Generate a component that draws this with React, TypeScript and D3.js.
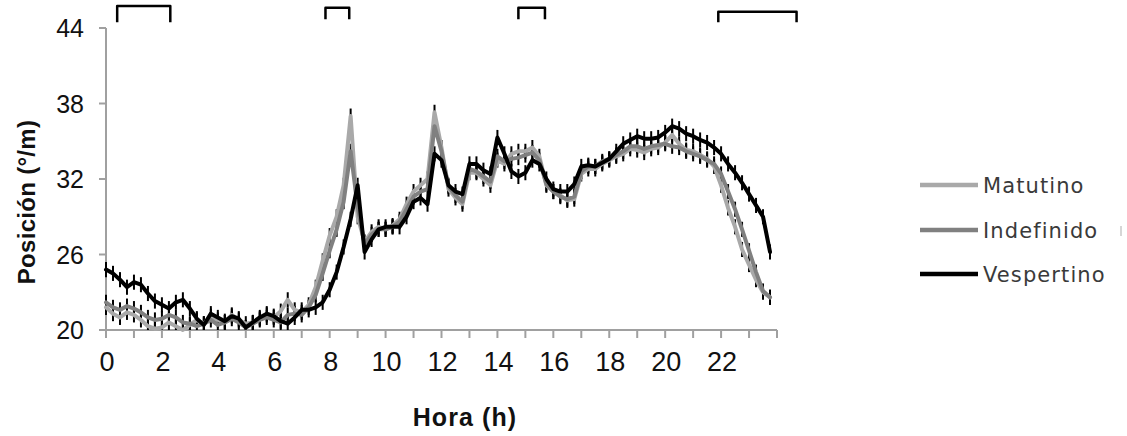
import React, { useEffect, useRef } from "react";
import * as d3 from "d3";

// hours sampled every 15 min (0 .. 23.75)
const hours: number[] = d3.range(0, 24, 0.25);

const matutino: number[] = [
  21.8, 21.3, 21.0, 21.4, 21.2, 20.8, 20.3, 20.1, 20.2, 20.6, 20.3, 20.0,
  20.4, 20.8, 20.5, 21.1, 20.8, 20.6, 21.2, 20.8, 20.5, 20.6, 20.9, 21.2,
  21.0, 21.5, 22.4, 21.6, 21.4, 22.0, 23.4, 25.5, 27.5, 29.0, 31.5, 37.0,
  29.0, 27.0, 27.8, 28.2, 28.0, 28.3, 28.8, 30.0, 31.0, 31.5, 32.0, 37.3,
  34.5, 31.2, 30.5, 30.0, 32.5, 32.5, 32.0, 31.5, 33.5, 33.2, 34.0, 34.2,
  34.2, 34.5, 33.8, 31.5, 31.0, 30.7, 30.3, 30.4, 32.4, 32.8, 32.8, 33.2,
  33.5, 33.8, 34.0, 34.4, 34.3, 34.1, 34.4, 34.5, 34.9, 35.5, 34.8, 34.3,
  34.2, 33.9, 33.6, 33.0, 31.5, 29.7, 28.2, 26.4, 25.2, 24.0, 23.0, 22.6,
];

const indefinido: number[] = [
  22.2, 21.8, 21.6, 21.9, 21.7, 21.4, 21.0, 20.8, 20.9, 21.2, 21.0, 20.6,
  20.5, 20.3, 20.5, 20.8, 20.4, 20.6, 20.9, 20.6, 20.2, 20.5, 20.8, 21.0,
  20.8, 20.6, 21.2, 21.3, 21.2, 21.8, 22.8, 24.5, 26.3, 28.0, 30.2, 34.2,
  29.8, 26.8, 27.6, 28.0, 28.0, 28.2, 28.6, 29.6, 30.6, 31.0, 31.2, 36.2,
  34.2, 31.4, 30.7, 30.2, 32.8, 32.6, 32.2, 31.8, 33.8, 33.4, 33.6, 33.7,
  33.9, 34.1, 33.5, 31.6, 31.0, 30.6, 30.4, 30.6, 32.6, 33.0, 33.0, 33.4,
  33.6, 33.9, 34.2, 34.6, 34.6, 34.4, 34.6, 34.7, 34.8, 34.6, 34.5, 34.2,
  34.0, 33.8, 33.5, 33.2, 32.4, 31.0, 29.6, 28.0, 26.3, 24.6, 23.1, 22.6,
];

const vespertino: number[] = [
  24.8, 24.5, 24.0, 23.4, 23.8, 23.6, 22.9, 22.3, 22.0, 21.7, 22.2, 22.4,
  21.7, 20.9, 20.4, 21.3, 21.0, 20.7, 21.1, 20.9, 20.2, 20.6, 21.0, 21.3,
  21.1, 20.7, 20.5, 21.0, 21.6, 21.6, 21.8, 22.2, 23.2, 24.6, 26.6, 28.8,
  31.5, 26.2, 27.2, 28.0, 28.2, 28.2, 28.2, 29.0, 30.2, 30.5, 30.0, 34.0,
  33.5, 31.5, 31.0, 30.8, 33.2, 33.2, 32.7, 32.4, 35.3, 34.0, 32.6, 32.2,
  32.5, 33.5, 33.2, 32.0, 31.2, 31.0, 31.0, 31.6, 33.0, 33.1, 33.0, 33.3,
  33.6, 34.2, 34.8, 35.1, 35.4, 35.2, 35.2, 35.3, 35.7, 36.2, 36.0, 35.6,
  35.4, 35.1, 34.9, 34.5, 34.0, 33.2, 32.5, 31.7, 30.8, 29.9, 29.0, 26.2,
];

const errorHalf = 0.6;

const seriesNames = ["Matutino", "Indefinido", "Vespertino"];
const seriesColors = ["#a9a9a9", "#808080", "#000000"];
const seriesValues = [matutino, indefinido, vespertino];

const yTicks = [20, 26, 32, 38, 44];
const xMinorTicks = d3.range(0, 25, 1);
const xLabelTicks = d3.range(0, 23, 2);

// [start hour, end hour, top value, foot value]
const brackets: [number, number, number, number][] = [
  [0.4, 2.3, 45.75, 44.45],
  [7.85, 8.7, 45.6, 44.7],
  [14.75, 15.7, 45.6, 44.7],
  [21.9, 24.7, 45.3, 44.45],
];

export default function App() {
  const svgRef = useRef<SVGSVGElement>(null);

  useEffect(() => {
    if (!svgRef.current) return;
    const width = 1127;
    const height = 436;
    const svg = d3.select(svgRef.current);
    svg.selectAll("*").remove();
    svg.attr("width", width).attr("height", height);

    const x = d3.scaleLinear().domain([0, 24]).range([106, 777]);
    const y = d3.scaleLinear().domain([20, 44]).range([330, 28]);
    const axisColor = "#a0a0a0";
    const font = "'Liberation Sans', Arial, sans-serif";

    // axes
    svg
      .append("line")
      .attr("x1", x(0))
      .attr("x2", x(0))
      .attr("y1", y(20))
      .attr("y2", y(44))
      .attr("stroke", axisColor)
      .attr("stroke-width", 2);
    svg
      .append("line")
      .attr("x1", x(0) - 1)
      .attr("x2", x(24))
      .attr("y1", y(20))
      .attr("y2", y(20))
      .attr("stroke", axisColor)
      .attr("stroke-width", 2);

    svg
      .selectAll(".ytick")
      .data(yTicks)
      .join("line")
      .attr("x1", x(0) - 7)
      .attr("x2", x(0))
      .attr("y1", (d) => y(d))
      .attr("y2", (d) => y(d))
      .attr("stroke", axisColor)
      .attr("stroke-width", 2);

    svg
      .selectAll(".ylab")
      .data(yTicks)
      .join("text")
      .attr("x", 84)
      .attr("y", (d) => y(d) + 9)
      .attr("text-anchor", "end")
      .attr("font-family", font)
      .attr("font-size", 25)
      .attr("fill", "#111")
      .text((d) => d);

    svg
      .selectAll(".xtick")
      .data(xMinorTicks)
      .join("line")
      .attr("x1", (d) => x(d))
      .attr("x2", (d) => x(d))
      .attr("y1", y(20))
      .attr("y2", y(20) + 8)
      .attr("stroke", axisColor)
      .attr("stroke-width", 2);

    svg
      .selectAll(".xlab")
      .data(xLabelTicks)
      .join("text")
      .attr("x", (d) => x(d) + 1)
      .attr("y", 371)
      .attr("text-anchor", "middle")
      .attr("font-family", font)
      .attr("font-size", 27)
      .attr("fill", "#111")
      .text((d) => d);

    // axis titles
    svg
      .append("text")
      .attr("x", 465)
      .attr("y", 426)
      .attr("text-anchor", "middle")
      .attr("font-family", font)
      .attr("font-weight", "bold")
      .attr("font-size", 25)
      .attr("letter-spacing", 1.1)
      .attr("fill", "#111")
      .text("Hora (h)");
    svg
      .append("text")
      .attr("transform", "translate(35,202) rotate(-90)")
      .attr("text-anchor", "middle")
      .attr("font-family", font)
      .attr("font-weight", "bold")
      .attr("font-size", 24)
      .attr("letter-spacing", 0.3)
      .attr("fill", "#111")
      .text("Posición (°/m)");

    // error bars
    seriesValues.forEach((vals) => {
      svg
        .append("g")
        .selectAll("line")
        .data(vals)
        .join("line")
        .attr("x1", (_, i) => x(hours[i]))
        .attr("x2", (_, i) => x(hours[i]))
        .attr("y1", (d) => y(Math.max(20, d - errorHalf)))
        .attr("y2", (d) => y(d + errorHalf))
        .attr("stroke", "#000")
        .attr("stroke-width", 2);
    });

    // lines
    const line = d3
      .line<number>()
      .x((_, i) => x(hours[i]))
      .y((d) => y(Math.max(20, d)));
    seriesValues.forEach((vals, k) => {
      svg
        .append("path")
        .attr("d", line(vals))
        .attr("fill", "none")
        .attr("stroke", seriesColors[k])
        .attr("stroke-width", 4)
        .attr("stroke-linejoin", "round")
        .attr("stroke-linecap", "round");
    });

    // brackets
    svg
      .selectAll(".bracket")
      .data(brackets)
      .join("path")
      .attr(
        "d",
        (b) =>
          `M${x(b[0])},${y(b[3])} V${y(b[2])} H${x(b[1])} V${y(b[3])}`
      )
      .attr("fill", "none")
      .attr("stroke", "#000")
      .attr("stroke-width", 2.5)
      .attr("stroke-linejoin", "round");

    // legend
    const legendY = [185, 230, 274];
    const lg = svg.append("g");
    seriesNames.forEach((name, k) => {
      lg.append("line")
        .attr("x1", 920)
        .attr("x2", 978)
        .attr("y1", legendY[k])
        .attr("y2", legendY[k])
        .attr("stroke", seriesColors[k])
        .attr("stroke-width", 4.5);
      lg.append("text")
        .attr("x", 983)
        .attr("y", legendY[k] + 8)
        .attr("font-family", "'DejaVu Sans', Verdana, sans-serif")
        .attr("font-size", 21)
        .attr("letter-spacing", 1.1)
        .attr("fill", "#3a3a3a")
        .text(name);
    });
    lg.append("line")
      .attr("x1", 1121)
      .attr("x2", 1121)
      .attr("y1", 226)
      .attr("y2", 236)
      .attr("stroke", "#c8c8c8")
      .attr("stroke-width", 1.5);
  }, []);

  return (
    <svg
      ref={svgRef}
      style={{ position: "absolute", left: 0, top: 0, background: "#fff" }}
    />
  );
}
